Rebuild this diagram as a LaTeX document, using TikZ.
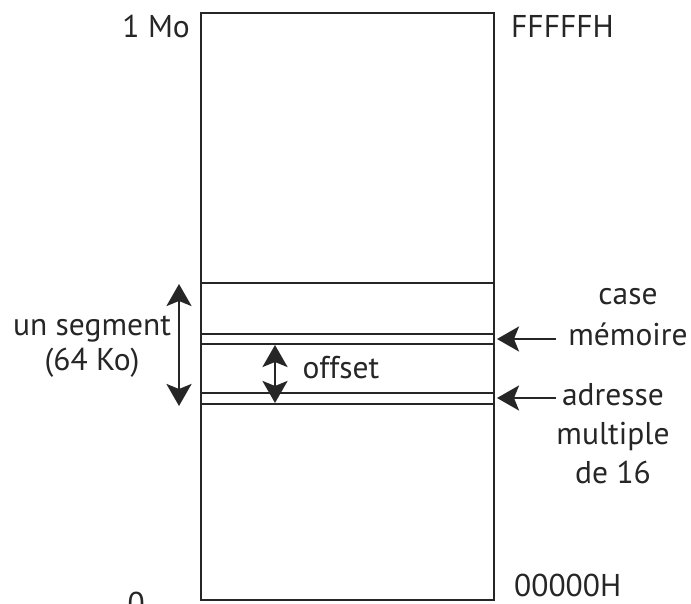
\documentclass[tikz,border=0pt]{standalone}
\usepackage{fontspec}
\setmainfont{PT Sans}
\usetikzlibrary{arrows.meta}
\begin{document}
\begin{tikzpicture}[x=1pt,y=-1pt,
  ln/.style={line width=2.8pt, draw=black!85},
  dbl/.style={line width=2.8pt, draw=black!85, {Stealth[length=22pt,width=25pt,inset=5pt]}-{Stealth[length=22pt,width=25pt,inset=5pt]}},
  ptr/.style={line width=2.8pt, draw=black!85, -{Stealth[length=22pt,width=25pt,inset=5pt]}},
  lbl/.style={font=\fontsize{31.5}{38}\selectfont, text=black!85, inner sep=0pt},
  lblc/.style={lbl, anchor=base},
  lbll/.style={lbl, anchor=base west},
  lblr/.style={lbl, anchor=base east}]
\useasboundingbox (0,0) rectangle (691,604);
% memory box
\draw[ln] (201,13) rectangle (494,600);
\draw[ln] (201,283) -- (494,283);
\draw[ln] (201,334) -- (494,334);
\draw[ln] (201,344) -- (494,344);
\draw[ln] (201,393) -- (494,393);
\draw[ln] (201,404) -- (494,404);
% labels
\node[lblr] (mo) at (190,38) {1 Mo};
\node[lbll] (ff) at (511,38) {FFFFFH};
\node[lblr] (zero) at (145,614) {0};
\node[lbll] (h0) at (514,596) {00000H};
\node[lblc] (seg1) at (92,335) {un segment};
\node[lblc] (seg2) at (92,370) {(64 Ko)};
\node[lblc] (off) at (341,378) {offset};
\node[lblc] (case1) at (628,305) {case};
\node[lblc] (case2) at (628,345) {mémoire};
\node[lblc] (adr1) at (613,405) {adresse};
\node[lblc] (adr2) at (613,444) {multiple};
\node[lblc] (adr3) at (613,483) {de 16};
% arrows
\coordinate (s1) at (179,284);
\coordinate (s2) at (179,406);
\draw[dbl] (s1) -- (s2);
\coordinate (o1) at (275,345);
\coordinate (o2) at (275,403);
\draw[dbl] (o1) -- (o2);
\coordinate (c1) at (556,339);
\coordinate (c2) at (497,339);
\draw[ptr] (c1) -- (c2);
\coordinate (a1) at (556,398);
\coordinate (a2) at (497,398);
\draw[ptr] (a1) -- (a2);
\end{tikzpicture}
\end{document}
